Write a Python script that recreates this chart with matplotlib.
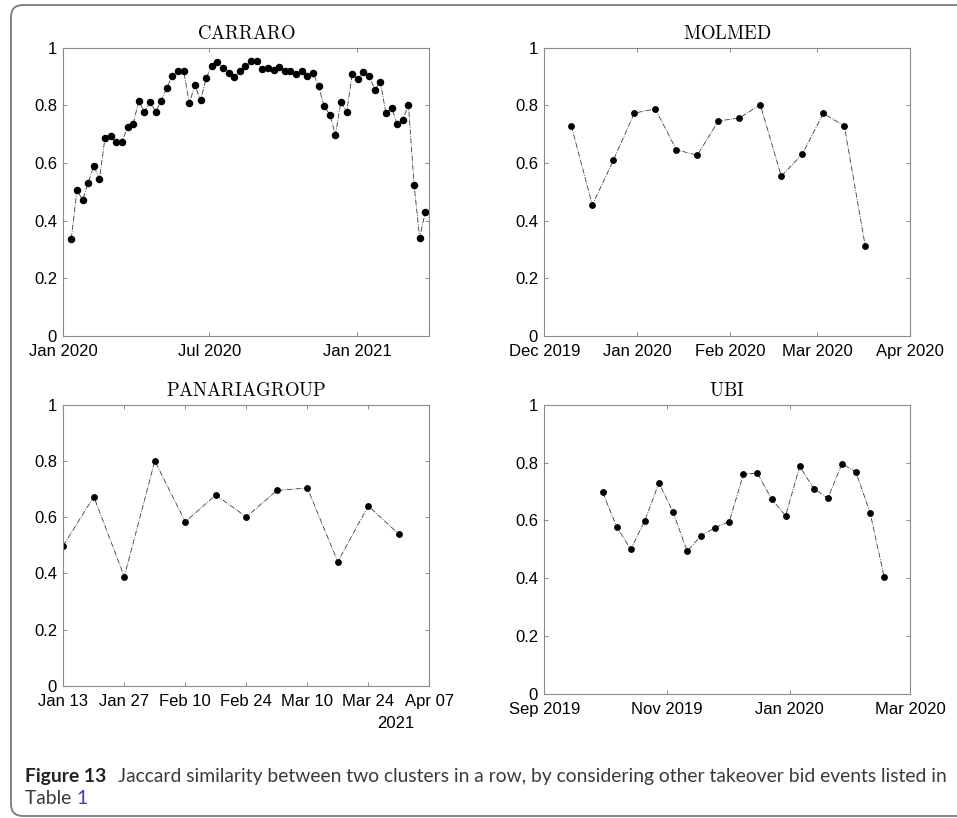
import matplotlib
matplotlib.use('Agg')
import matplotlib.pyplot as plt
from matplotlib.patches import FancyBboxPatch
from matplotlib.transforms import IdentityTransform
import pandas as pd

plt.rcParams['mathtext.fontset'] = 'cm'
plt.rcParams['font.family'] = ['Liberation Sans', 'DejaVu Sans']

# ---------------- data ----------------
carraro_vals = [0.338, 0.506, 0.472, 0.531, 0.590, 0.545, 0.688, 0.692, 0.672, 0.672,
                0.726, 0.735, 0.815, 0.776, 0.813, 0.778, 0.816, 0.861, 0.903, 0.919,
                0.920, 0.808, 0.869, 0.817, 0.894, 0.938, 0.950, 0.929, 0.912, 0.898,
                0.920, 0.936, 0.953, 0.954, 0.926, 0.929, 0.923, 0.934, 0.918, 0.920,
                0.909, 0.919, 0.902, 0.912, 0.867, 0.798, 0.768, 0.698, 0.813, 0.776,
                0.909, 0.892, 0.916, 0.902, 0.855, 0.882, 0.772, 0.792, 0.735, 0.750,
                0.802, 0.525, 0.341, 0.430]
carraro_dates = pd.date_range('2020-01-11', periods=len(carraro_vals), freq='7D')
carraro_ticks = ['2020-01-01', '2020-07-01', '2021-01-01']
carraro_ticklabels = ['Jan 2020', 'Jul 2020', 'Jan 2021']
carraro_xlim = ['2020-01-01', '2021-04-01']

molmed_vals = [0.729, 0.455, 0.609, 0.773, 0.788, 0.646, 0.627, 0.746, 0.756, 0.802,
               0.554, 0.631, 0.772, 0.729, 0.311]
molmed_dates = pd.date_range('2019-12-10', periods=len(molmed_vals), freq='7D')
molmed_ticks = ['2019-12-01', '2020-01-01', '2020-02-01', '2020-03-01', '2020-04-01']
molmed_ticklabels = ['Dec 2019', 'Jan 2020', 'Feb 2020', 'Mar 2020', 'Apr 2020']
molmed_xlim = ['2019-12-01', '2020-04-01']

panaria_vals = [0.499, 0.673, 0.389, 0.800, 0.584, 0.679, 0.601, 0.695, 0.704, 0.442,
                0.640, 0.540]
panaria_dates = pd.date_range('2021-01-13', periods=len(panaria_vals), freq='7D')
panaria_ticks = ['2021-01-13', '2021-01-27', '2021-02-10', '2021-02-24', '2021-03-10',
                 '2021-03-24', '2021-04-07']
panaria_ticklabels = ['Jan 13', 'Jan 27', 'Feb 10', 'Feb 24', 'Mar 10', 'Mar 24', 'Apr 07']
panaria_xlim = ['2021-01-13', '2021-04-07']
panaria_year = '2021'

ubi_vals = [0.697, 0.578, 0.500, 0.599, 0.730, 0.629, 0.494, 0.547, 0.575, 0.596,
            0.760, 0.763, 0.674, 0.616, 0.787, 0.710, 0.677, 0.796, 0.767, 0.627,
            0.404]
ubi_dates = pd.date_range('2019-09-30', periods=len(ubi_vals), freq='7D')
ubi_ticks = ['2019-09-01', '2019-11-01', '2020-01-01', '2020-03-01']
ubi_ticklabels = ['Sep 2019', 'Nov 2019', 'Jan 2020', 'Mar 2020']
ubi_xlim = ['2019-09-01', '2020-03-01']

y_ticks = [0, 0.2, 0.4, 0.6, 0.8, 1]
y_ticklabels = ['0', '0.2', '0.4', '0.6', '0.8', '1']

titles = ['CARRARO', 'MOLMED', 'PANARIAGROUP', 'UBI']
caption_bold = 'Figure 13'
caption_text = 'Jaccard similarity between two clusters in a row, by considering other takeover bid events listed in'
caption_line2 = 'Table '
caption_ref = '1'

# ---------------- figure ----------------
W, H = 957, 818
fig = plt.figure(figsize=(W / 100, H / 100), dpi=100)
fig.patch.set_facecolor('white')


def add_axes_px(l, t, r, b):
    return fig.add_axes([l / W, 1 - b / H, (r - l) / W, (b - t) / H])


spine_col = '#8a8a8a'


def draw_panel(ax, dates, vals, ticks, ticklabels, xlim, title, ms):
    ax.plot(dates, vals, linestyle='-.', color='#3a3a3a', linewidth=0.6,
            marker='o', markersize=ms, markerfacecolor='black', markeredgecolor='black')
    ax.set_xlim(pd.Timestamp(xlim[0]), pd.Timestamp(xlim[1]))
    ax.set_ylim(0, 1)
    ax.set_xticks([pd.Timestamp(t) for t in ticks])
    ax.set_xticklabels(ticklabels)
    ax.set_yticks(y_ticks)
    ax.set_yticklabels(y_ticklabels)
    for s in ax.spines.values():
        s.set_color(spine_col)
        s.set_linewidth(0.8)
    ax.tick_params(axis='both', direction='in', length=3, width=0.7, color=spine_col,
                   labelsize=12, labelcolor='black', top=True, right=True)
    ax.tick_params(axis='x', pad=5.5)
    ax.tick_params(axis='y', pad=4.5)
    ax.set_title(r'$\mathrm{' + title + '}$', fontsize=13.5, pad=6)


ax1 = add_axes_px(63.3, 47.7, 429.3, 336)
draw_panel(ax1, carraro_dates, carraro_vals, carraro_ticks, carraro_ticklabels,
           carraro_xlim, titles[0], 4.4)
ax2 = add_axes_px(544.3, 47.7, 910.3, 336)
draw_panel(ax2, molmed_dates, molmed_vals, molmed_ticks, molmed_ticklabels,
           molmed_xlim, titles[1], 3.9)
ax3 = add_axes_px(63.3, 404.7, 429.3, 686)
draw_panel(ax3, panaria_dates, panaria_vals, panaria_ticks, panaria_ticklabels,
           panaria_xlim, titles[2], 3.9)
ax4 = add_axes_px(544.3, 404.7, 910.3, 694)
draw_panel(ax4, ubi_dates, ubi_vals, ubi_ticks, ubi_ticklabels,
           ubi_xlim, titles[3], 3.9)

# secondary year label under PANARIAGROUP axis
fig.text(396, H - 723, panaria_year, transform=IdentityTransform(), fontsize=12,
         ha='center', va='center', color='black')

# rounded frame
frame = FancyBboxPatch((11, H - 816), 975, 811,
                       boxstyle='round,pad=0,rounding_size=12',
                       transform=IdentityTransform(), fill=False,
                       edgecolor='#7a7a7a', linewidth=1.3)
fig.add_artist(frame)

# caption
cap_font = ['Lato', 'DejaVu Sans']
renderer = fig.canvas.get_renderer()
x0 = 25
gap = 12
target_right = 948
fs = 11
t1 = fig.text(x0, H - 782, caption_bold, transform=IdentityTransform(), fontsize=fs,
              fontweight='bold', family=cap_font, color='#222222', va='baseline')
t2 = fig.text(0, H - 782, caption_text, transform=IdentityTransform(), fontsize=fs,
              family=cap_font, color='#3a3a3a', va='baseline')
for _ in range(3):
    w1 = t1.get_window_extent(renderer).width
    w2 = t2.get_window_extent(renderer).width
    total = w1 + gap + w2
    fs = fs * (target_right - x0) / total
    t1.set_fontsize(fs)
    t2.set_fontsize(fs)
w1 = t1.get_window_extent(renderer).width
t2.set_position((x0 + w1 + gap, H - 782))

t3 = fig.text(x0, H - 804, caption_line2, transform=IdentityTransform(), fontsize=fs,
              family=cap_font, color='#3a3a3a', va='baseline')
w3 = t3.get_window_extent(renderer).width
fig.text(x0 + w3, H - 804, caption_ref, transform=IdentityTransform(), fontsize=fs,
         family=cap_font, color='#3b3bd6', va='baseline')

fig.savefig('out.png', dpi=100)
